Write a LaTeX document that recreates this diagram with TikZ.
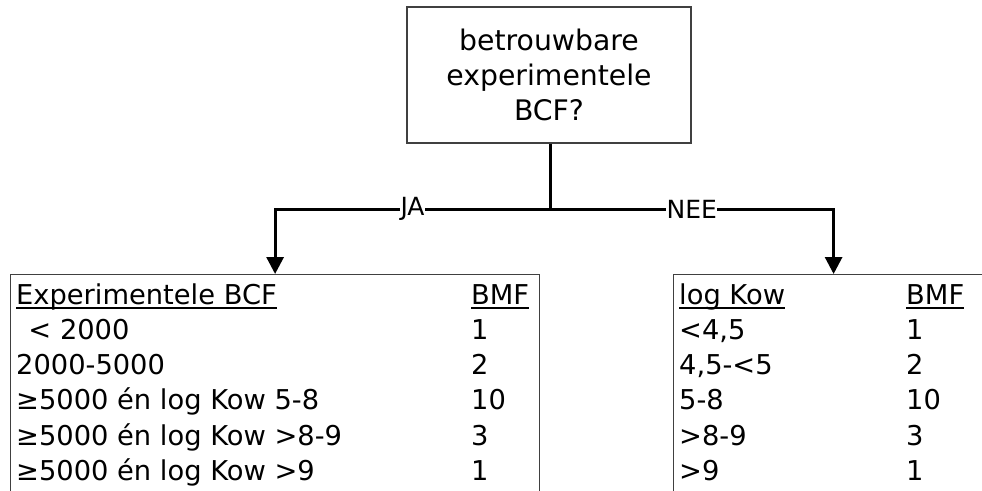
\documentclass[tikz,border=0pt]{standalone}
\usepackage{fontspec}
\setmainfont{DejaVu Sans}
\usetikzlibrary{arrows.meta}

\newcommand\colhead[1]{\setbox0\hbox{#1}\rlap{\rule[-4.5pt]{\wd0}{1.6pt}}\box0}

\begin{document}
\begin{tikzpicture}
    [x=1pt, y=1pt,
    box/.style={draw=black!75, line width=1.2pt, inner sep=0pt},
    cell/.style={anchor=base west, inner sep=0pt, font=\fontsize{27.3pt}{35pt}\selectfont},
    link/.style={line width=3pt},
    answer/.style={fill=white, inner xsep=0.5pt, inner ysep=2pt, font=\fontsize{25pt}{28pt}\selectfont}]
    \useasboundingbox (0,0) rectangle (982,-490);
    \clip (0,0) rectangle (982,-490);
    \node[box, minimum width=284pt, minimum height=136pt, align=center,
      font=\fontsize{28.3pt}{35pt}\selectfont] (bcfq) at (549,-75)
      {betrouwbare\\experimentele\\BCF?};
    \node[box, anchor=north west, minimum width=529pt, minimum height=240pt] (bcfbox) at (10,-274) {};
    \node[box, anchor=north west, minimum width=320pt, minimum height=240pt] (kowbox) at (673,-274) {};
    % left table
    \foreach \lhs/\rhs [count=\i from 0] in
      {{\colhead{Experimentele BCF}}/{\colhead{BMF}},
       {\hspace{0.45em}< 2000}/1, {2000-5000}/2, {≥5000 én log Kow 5-8}/10,
       {≥5000 én log Kow >8-9}/3, {≥5000 én log Kow >9}/1}
    {
      \node[cell] (bcf-\i-a) at ([xshift=6pt, yshift={-30pt-\i*35.3pt}]bcfbox.north west) {\lhs};
      \node[cell] (bcf-\i-b) at ([xshift=461pt, yshift={-30pt-\i*35.3pt}]bcfbox.north west) {\rhs};
    }
    % right table
    \foreach \lhs/\rhs [count=\i from 0] in
      {{\colhead{log Kow}}/{\colhead{BMF}},
       {<4,5}/1, {4,5-<5}/2, {5-8}/10, {>8-9}/3, {>9}/1}
    {
      \node[cell] (kow-\i-a) at ([xshift=6pt, yshift={-30pt-\i*35.3pt}]kowbox.north west) {\lhs};
      \node[cell] (kow-\i-b) at ([xshift=233pt, yshift={-30pt-\i*35.3pt}]kowbox.north west) {\rhs};
    }
    \coordinate (split) at (550,-209);
    \draw[link] (bcfq.south -| split) -- (split);
    \draw[link, -{Triangle[width=17pt, length=17pt]}] (split) -| node[answer, pos=0.25] {JA} (bcfbox.north);
    \draw[link, -{Triangle[width=17pt, length=17pt]}] (split) -| node[answer, pos=0.25] {NEE} (kowbox.north);
  \end{tikzpicture}
\end{document}
